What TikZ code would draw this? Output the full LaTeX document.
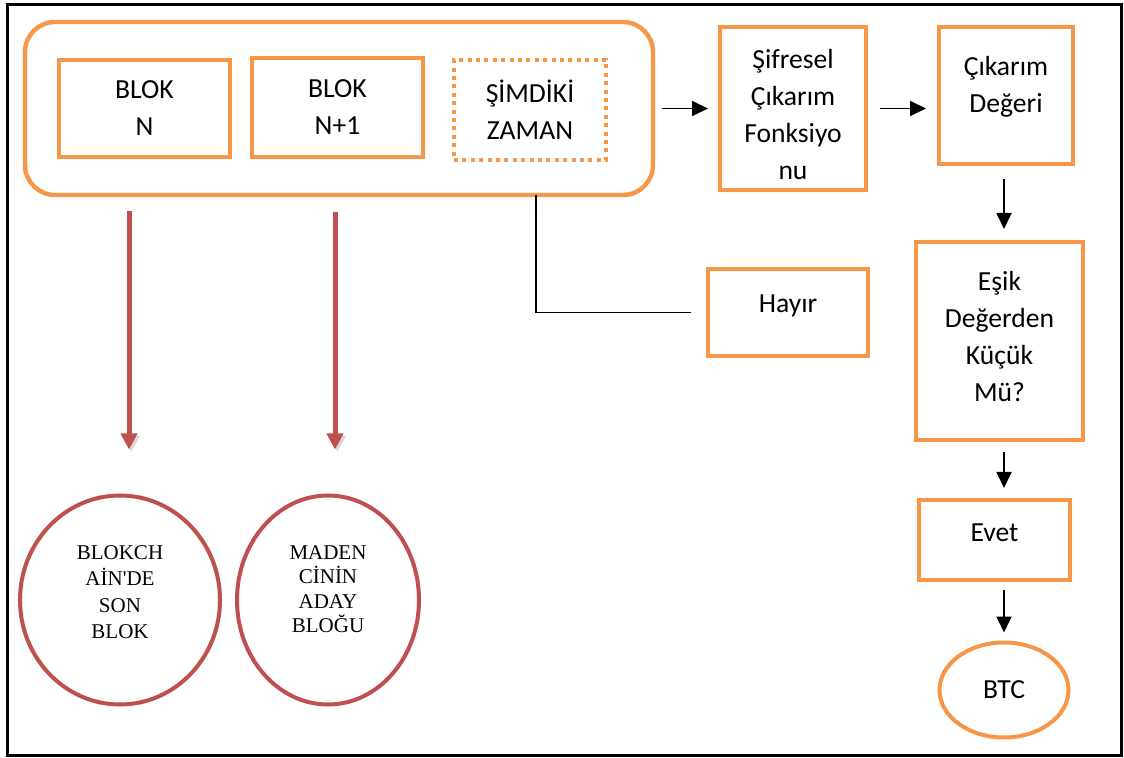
\documentclass[tikz,border=0pt]{standalone}
\usepackage{fontspec}
\setmainfont{Carlito}
\newfontfamily\circlefont{Liberation Serif}
\usetikzlibrary{arrows.meta,shapes.geometric}
\definecolor{officeorange}{HTML}{F79646}
\definecolor{officered}{HTML}{C0504D}
\tikzset{
  stepbox/.style={
    draw=officeorange,
    line width=2pt,
    inner sep=0pt,
    align=center,
    font=\fontsize{13.8}{18.5}\selectfont
  },
  nowbox/.style={stepbox, dash pattern=on 2pt off 2.2pt},
  groupbox/.style={draw=officeorange, line width=2.2pt, rounded corners=15pt, inner sep=0pt},
  blockcircle/.style={
    ellipse,
    draw=officered,
    line width=2pt,
    inner sep=0pt,
    align=center,
    font=\circlefont\fontsize{10.5}{13.3}\selectfont
  },
  endoval/.style={ellipse, draw=officeorange, line width=2pt, inner sep=0pt, font=\fontsize{13.8}{16}\selectfont},
  arrow/.style={-{Triangle[length=8pt,width=7.5pt]}, line width=0.9pt, draw=black},
  redarrow/.style={
    -{Triangle[length=8pt,width=8pt]},
    line width=2.5pt,
    draw=officered,
    preaction={draw=black!15, transform canvas={xshift=1.2pt,yshift=-1.2pt}}
  },
  plainline/.style={line width=0.9pt, draw=black}
}
\begin{document}
\begin{tikzpicture}[x=0.5pt, y=-0.5pt]
  \useasboundingbox (0,0) rectangle (1124,758);
  \draw[line width=1.5pt] (7,5) rectangle (1121,755);
  \node[groupbox, minimum width=314pt, minimum height=86.5pt] (grp) at (339,108.5) {};
  \node[stepbox, minimum width=85.5pt, minimum height=48.5pt] (blokn) at (144.5,108.5) {BLOK\\N};
  \node[stepbox, minimum width=85.5pt, minimum height=49.5pt] (bloknext) at (337.5,107.5) {BLOK\\N+1};
  \node[nowbox, minimum width=76pt, minimum height=50pt] (simdi) at (530,110) {ŞİMDİKİ\\ZAMAN};
  \node[stepbox, minimum width=73pt, minimum height=81.5pt, text height=71pt, text depth=0pt] (sifre) at (793,108.5) {Şifresel\\Çıkarım\\Fonksiyo\\nu};
  \node[stepbox, minimum width=67pt, minimum height=68.5pt, text depth=11pt] (cikar) at (1006,95.5) {Çıkarım\\Değeri};
  \node[stepbox, minimum width=80pt, minimum height=43.5pt, text depth=9pt] (hayir) at (788,312.5) {Hayır};
  \node[stepbox, minimum width=83.5pt, minimum height=99pt, text depth=4.5pt] (esik) at (999.5,341) {Eşik\\Değerden\\Küçük\\Mü?};
  \node[stepbox, minimum width=75.5pt, minimum height=40pt, text depth=7pt] (evet) at (994.5,540) {Evet};
  \node[endoval, minimum width=64.5pt, minimum height=47.5pt] (btc) at (1004,690) {BTC};
  \node[blockcircle, minimum width=100pt, minimum height=104.5pt, text depth=8pt] (sonblok) at (120,600) {BLOKCH\\AİN'DE\\SON\\BLOK};
  \node[blockcircle, minimum width=91pt, minimum height=104.5pt, text depth=11pt, font=\circlefont\fontsize{10.5}{12.2}\selectfont] (aday) at (328,600) {MADEN\\CİNİN\\ADAY\\BLOĞU};
  \coordinate (lefttap) at (129,195);
  \coordinate (righttap) at (335,195);
  \coordinate (nowtap) at (536,195);
  \draw[arrow, shorten <=3.5pt, shorten >=5pt] (grp) -- (sifre);
  \draw[arrow, shorten <=6pt, shorten >=5.5pt] (sifre.east) -- (sifre.east -| cikar.west);
  \draw[arrow, shorten <=6.5pt, shorten >=5.5pt] (cikar.south -| btc) -- (esik.north -| btc);
  \draw[arrow, shorten <=5pt, shorten >=5pt] (esik.south -| btc) -- (evet.north -| btc);
  \draw[arrow, shorten <=4pt, shorten >=4pt] (evet.south -| btc) -- (btc.north);
  \draw[redarrow, shorten <=8pt, shorten >=22pt] (lefttap) -- (lefttap |- sonblok.north);
  \draw[redarrow, shorten <=8.5pt, shorten >=22pt] (righttap) -- (righttap |- aday.north);
  \draw[plainline, shorten >=7.5pt] (nowtap) |- (hayir.west);
\end{tikzpicture}
\end{document}
